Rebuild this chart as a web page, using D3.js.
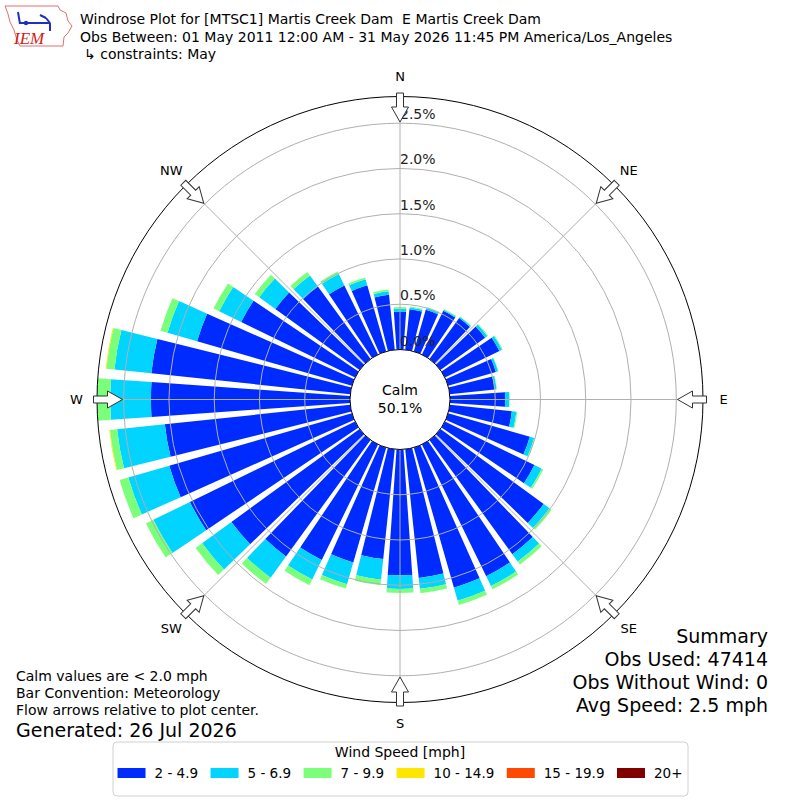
<!DOCTYPE html>
<html>
<head>
<meta charset="utf-8">
<script src="https://cdn.jsdelivr.net/npm/d3@7"></script>
<style>
  body { margin: 0; background: #fff; }
  svg { font-family: "DejaVu Sans", sans-serif; }
  text { white-space: pre; }
</style>
</head>
<body>
<script>
'use strict';

// wind direction sectors (deg, meteorological, centre of each bar)
const directions = d3.range(0, 360, 10);

const speedBins = ['2 - 4.9', '5 - 6.9', '7 - 9.9', '10 - 14.9', '15 - 19.9', '20+'];
const binColors = ['#002bff', '#00d4ff', '#7bff7b', '#ffe600', '#ff4800', '#800000'];

// frequency (%) per direction, one array per speed bin
const speed2to5 = [0.42, 0.45, 0.48, 0.54, 0.56, 0.61, 0.67, 0.55, 0.50, 0.61,
                   0.69, 0.94, 1.10, 1.41, 1.56, 1.62, 1.61, 1.43, 1.39,
                   1.22, 1.32, 1.42, 1.59, 1.75, 2.03, 2.10, 2.06, 2.20,
                   2.21, 1.78, 1.40, 1.15, 0.99, 0.85, 0.76, 0.61];
const speed5to7 = [0.03, 0.02, 0.02, 0.01, 0.015, 0.03, 0.03, 0.025, 0.02, 0.045,
                   0.05, 0.05, 0.09, 0.08, 0.10, 0.12, 0.15, 0.12, 0.15,
                   0.23, 0.25, 0.24, 0.29, 0.40, 0.45, 0.47, 0.53, 0.45,
                   0.41, 0.34, 0.27, 0.22, 0.15, 0.14, 0.07, 0.04];
const speed7to10 = [0.02, 0.01, 0.01, 0.01, 0.005, 0.01, 0.01, 0.005, 0.005, 0.005,
                    0.01, 0.01, 0.02, 0.03, 0.04, 0.04, 0.05, 0.05, 0.045,
                    0.06, 0.05, 0.07, 0.085, 0.09, 0.09, 0.10, 0.08, 0.145,
                    0.09, 0.08, 0.07, 0.06, 0.05, 0.03, 0.02, 0.02];
const speed10to15 = [0, 0, 0, 0, 0, 0, 0, 0, 0, 0,
                     0, 0, 0, 0, 0, 0, 0, 0, 0,
                     0, 0, 0, 0, 0, 0, 0, 0.008, 0,
                     0.008, 0, 0, 0, 0, 0, 0, 0];
const speed15to20 = directions.map(() => 0);
const speed20plus = directions.map(() => 0);

const ringTicks = [0, 0.5, 1.0, 1.5, 2.0, 2.5];
const compassLabels = ['N', 'NE', 'E', 'SE', 'S', 'SW', 'W', 'NW'];
const calmPercent = '50.1%';

const titleLines = [
  'Windrose Plot for [MTSC1] Martis Creek Dam  E Martis Creek Dam',
  'Obs Between: 01 May 2011 12:00 AM - 31 May 2026 11:45 PM America/Los_Angeles',
  '\u21b3 constraints: May'
];
const noteLines = ['Calm values are < 2.0 mph', 'Bar Convention: Meteorology', 'Flow arrows relative to plot center.'];
const generatedText = 'Generated: 26 Jul 2026';
const summaryLines = ['Summary', 'Obs Used: 47414', 'Obs Without Wind: 0', 'Avg Speed: 2.5 mph'];

const width = 800, height = 800;
const cx = 400, cy = 399.5;
const calmR = 50, outerR = 303;

const svg = d3.select('body').append('svg')
  .attr('width', width)
  .attr('height', height);

// stacked table
const series = [speed2to5, speed5to7, speed7to10, speed10to15, speed15to20, speed20plus];
const table = directions.map((dir, i) => {
  const row = { dir };
  speedBins.forEach((b, j) => { row[b] = series[j][i]; });
  return row;
});
const stacked = d3.stack().keys(speedBins)(table);
const maxTotal = d3.max(table, d => d3.sum(speedBins, b => d[b]));

const r = d3.scaleLinear().domain([0, maxTotal]).range([calmR, outerR]);
const rad = deg => deg * Math.PI / 180;
const sector = 360 / directions.length;
const opening = 0.8;

const plot = svg.append('g').attr('transform', `translate(${cx},${cy})`);

const arc = d3.arc();
plot.append('g').attr('class', 'bars')
  .selectAll('g')
  .data(stacked)
  .join('g')
  .attr('fill', (d, i) => binColors[i])
  .selectAll('path')
  .data(d => d.filter(p => p[1] - p[0] > 0))
  .join('path')
  .attr('d', p => arc({
    innerRadius: r(p[0]),
    outerRadius: r(p[1]),
    startAngle: rad(p.data.dir - sector * opening / 2),
    endAngle: rad(p.data.dir + sector * opening / 2)
  }));

// grid
const grid = plot.append('g').attr('fill', 'none').attr('stroke', '#b0b0b0').attr('stroke-width', 1);
grid.selectAll('circle')
  .data(ringTicks.filter(t => t > 0))
  .join('circle')
  .attr('r', d => r(d));
grid.selectAll('line')
  .data(d3.range(0, 360, 45))
  .join('line')
  .attr('x1', 0).attr('y1', 0)
  .attr('x2', d => outerR * Math.sin(rad(d)))
  .attr('y2', d => -outerR * Math.cos(rad(d)));

plot.append('circle').attr('r', outerR)
  .attr('fill', 'none').attr('stroke', '#000').attr('stroke-width', 1);
plot.append('circle').attr('r', calmR)
  .attr('fill', '#fff').attr('stroke', '#000').attr('stroke-width', 1);

// ring labels
plot.append('g').selectAll('text')
  .data(ringTicks)
  .join('text')
  .attr('x', 0)
  .attr('y', d => -r(d) - 4)
  .attr('font-size', 14)
  .attr('fill', '#222')
  .text(d => d.toFixed(1) + '%');

// flow arrows on the outer circle
const arrowPts = [[-3.5, -306.5], [3.5, -306.5], [3.5, -292.5], [8.5, -292.5],
                  [0, -277.5], [-8.5, -292.5], [-3.5, -292.5]];
plot.append('g').selectAll('polygon')
  .data(compassLabels)
  .join('polygon')
  .attr('points', arrowPts.map(p => p.join(',')).join(' '))
  .attr('transform', (d, i) => `rotate(${i * 45})`)
  .attr('fill', '#fff')
  .attr('stroke', '#333')
  .attr('stroke-width', 1);

plot.append('g').selectAll('text')
  .data(compassLabels)
  .join('text')
  .attr('x', (d, i) => 323.5 * Math.sin(rad(i * 45)))
  .attr('y', (d, i) => -323.5 * Math.cos(rad(i * 45)))
  .attr('text-anchor', 'middle')
  .attr('dominant-baseline', 'central')
  .attr('font-size', 13)
  .text(d => d);

plot.append('text').attr('y', -9.5).attr('text-anchor', 'middle')
  .attr('dominant-baseline', 'central').attr('font-size', 14).text('Calm');
plot.append('text').attr('y', 8.5).attr('text-anchor', 'middle')
  .attr('dominant-baseline', 'central').attr('font-size', 14).text(calmPercent);

// header
svg.append('g').selectAll('text')
  .data(titleLines)
  .join('text')
  .attr('x', (d, i) => i === 2 ? 84 : 80)
  .attr('y', (d, i) => 24 + i * 17.5)
  .attr('font-size', 14)
  .text(d => d);

// IEM logo (rough)
const logo = svg.append('g');
logo.append('path')
  .attr('d', 'M5,6 L58,6 L60,10 L66,13 L68,21 L72,26 L68,33 L64,37 L63,46 L20,46 L17,40 L14,30 L10,22 L8,14 Z')
  .attr('fill', 'none').attr('stroke', '#e07070').attr('stroke-width', 1);
logo.append('path')
  .attr('d', 'M18,12 L20,24 M20,23 L50,23 M40,15 L46,18 M50,23 L50,31 M46,18 L50,23')
  .attr('fill', 'none').attr('stroke', '#2030c0').attr('stroke-width', 2);
logo.append('circle').attr('cx', 26).attr('cy', 23).attr('r', 2.2).attr('fill', '#2030c0');
logo.append('text').attr('x', 14).attr('y', 44)
  .attr('font-family', '"Liberation Serif", serif').attr('font-style', 'italic')
  .attr('font-size', 17).attr('fill', '#d02020').text('IEM');

// notes bottom left
svg.append('g').selectAll('text')
  .data(noteLines)
  .join('text')
  .attr('x', 16)
  .attr('y', (d, i) => 681 + i * 17)
  .attr('font-size', 14)
  .text(d => d);
svg.append('text').attr('x', 16).attr('y', 737).attr('font-size', 19).text(generatedText);

// summary bottom right
svg.append('g').selectAll('text')
  .data(summaryLines)
  .join('text')
  .attr('x', 768)
  .attr('y', (d, i) => 642.5 + i * 23.2)
  .attr('text-anchor', 'end')
  .attr('font-size', 19)
  .text(d => d);

// legend
const legend = svg.append('g');
legend.append('rect')
  .attr('x', 113).attr('y', 742).attr('width', 575).attr('height', 54)
  .attr('rx', 4).attr('fill', '#fff').attr('stroke', '#d0d0d0');
legend.append('text').attr('x', 400).attr('y', 752)
  .attr('text-anchor', 'middle').attr('dominant-baseline', 'central')
  .attr('font-size', 14).text('Wind Speed [mph]');

const items = legend.selectAll('g.item')
  .data(speedBins)
  .join('g').attr('class', 'item');
items.append('rect').attr('width', 28).attr('height', 10).attr('y', -5)
  .attr('fill', (d, i) => binColors[i]);
items.append('text').attr('x', 37).attr('dominant-baseline', 'central')
  .attr('font-size', 13.5).text(d => d);

const widths = [];
items.each(function () { widths.push(37 + this.querySelector('text').getComputedTextLength()); });
const gap = 12.5;
const total = d3.sum(widths) + gap * (widths.length - 1);
let xPos = 400 - total / 2;
items.attr('transform', (d, i) => {
  const t = `translate(${xPos},773)`;
  xPos += widths[i] + gap;
  return t;
});
</script>
</body>
</html>
